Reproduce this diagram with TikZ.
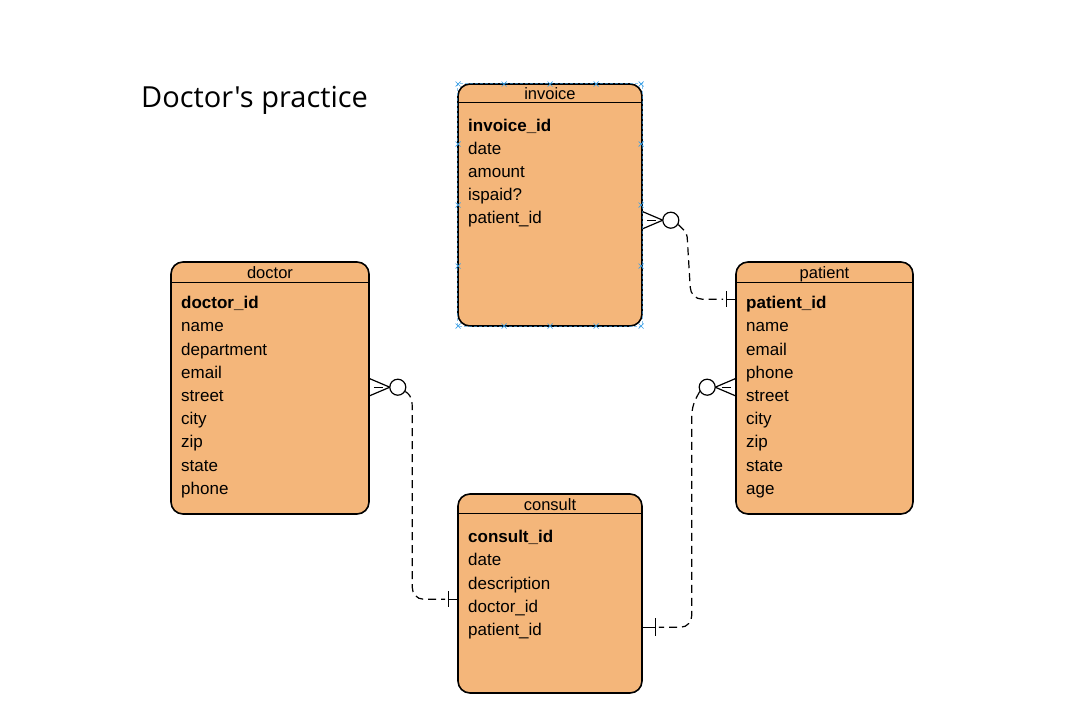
\documentclass[tikz,border=0pt]{standalone}
\usepackage{fontspec}
\setmainfont{Liberation Sans}
\newfontfamily\titlefont{Open Sans}
\definecolor{erfill}{RGB}{244,182,122}
\definecolor{selblue}{RGB}{60,160,230}
\begin{document}
\begin{tikzpicture}[x=1pt,y=-1pt,
  erbox/.style={draw, line width=1.6pt, rounded corners=12pt, fill=erfill, inner sep=0pt},
  ertitle/.style={anchor=base, inner sep=0pt, font=\fontsize{16.5}{19}\selectfont},
  erfield/.style={anchor=base west, inner sep=0pt, font=\fontsize{17}{20}\selectfont},
  erkey/.style={erfield, font=\fontsize{17}{20}\selectfont\bfseries},
  conn/.style={line width=1.2pt, dash pattern=on 8pt off 5pt},
  solidc/.style={line width=1.2pt},
  ring/.style={draw, circle, line width=1.2pt, fill=white, minimum size=16pt, inner sep=0pt},
  selmark/.style={selblue, line width=0.7pt}
]
\useasboundingbox (0,0) rectangle (1068,723);
% title
\node[anchor=base west, inner sep=0pt, font=\titlefont\fontsize{29}{33}\selectfont] (ttl) at (141,107) {Doctor's practice};

% boxes
\node[erbox, minimum width=184pt, minimum height=242pt] (invoice) at (550,205) {};
\node[erbox, minimum width=198pt, minimum height=252pt] (doctor) at (270,388) {};
\node[erbox, minimum width=177pt, minimum height=252pt] (patient) at (824.5,388) {};
\node[erbox, minimum width=184pt, minimum height=199pt] (consult) at (550,593.5) {};

% header lines
\draw[line width=1.3pt] ([yshift=-19pt]invoice.north west) -- ([yshift=-19pt]invoice.north east);
\draw[line width=1.3pt] ([yshift=-21pt]doctor.north west) -- ([yshift=-21pt]doctor.north east);
\draw[line width=1.3pt] ([yshift=-21pt]patient.north west) -- ([yshift=-21pt]patient.north east);
\draw[line width=1.3pt] ([yshift=-20pt]consult.north west) -- ([yshift=-20pt]consult.north east);

% titles
\node[ertitle] (invoice-t) at (550,99) {invoice};
\node[ertitle] (doctor-t) at (270,278) {doctor};
\node[ertitle] (patient-t) at (824.5,278) {patient};
\node[ertitle] (consult-t) at (550,510) {consult};

% invoice fields
\node[erkey] (inv1) at (468,131) {invoice\_id};
\node[erfield] (inv2) at (468,154) {date};
\node[erfield] (inv3) at (468,177) {amount};
\node[erfield] (inv4) at (468,200) {ispaid?};
\node[erfield] (inv5) at (468,223) {patient\_id};

% doctor fields
\node[erkey] (doc1) at (181,308) {doctor\_id};
\node[erfield] (doc2) at (181,331.5) {name};
\node[erfield] (doc3) at (181,355) {department};
\node[erfield] (doc4) at (181,378) {email};
\node[erfield] (doc5) at (181,401.5) {street};
\node[erfield] (doc6) at (181,424.5) {city};
\node[erfield] (doc7) at (181,447.5) {zip};
\node[erfield] (doc8) at (181,471) {state};
\node[erfield] (doc9) at (181,494.5) {phone};

% patient fields
\node[erkey] (pat1) at (746,308) {patient\_id};
\node[erfield] (pat2) at (746,331.5) {name};
\node[erfield] (pat3) at (746,355) {email};
\node[erfield] (pat4) at (746,378) {phone};
\node[erfield] (pat5) at (746,401.5) {street};
\node[erfield] (pat6) at (746,424.5) {city};
\node[erfield] (pat7) at (746,447.5) {zip};
\node[erfield] (pat8) at (746,471) {state};
\node[erfield] (pat9) at (746,494.5) {age};

% consult fields
\node[erkey] (con1) at (468,542.5) {consult\_id};
\node[erfield] (con2) at (468,565.5) {date};
\node[erfield] (con3) at (468,589) {description};
\node[erfield] (con4) at (468,612) {doctor\_id};
\node[erfield] (con5) at (468,635.5) {patient\_id};

% --- connector invoice (many) -- patient (one)
\coordinate (ip-a) at ([yshift=-137pt]invoice.north east);
\coordinate (ip-b) at ([yshift=-38pt]patient.north west);
\draw[solidc] ([yshift=8.5pt]ip-a) -- ([xshift=20pt]ip-a) -- ([yshift=-8.5pt]ip-a);
\draw[solidc] ([xshift=4pt]ip-a) -- ([xshift=13pt]ip-a);
\node[ring] (ip-c) at ([xshift=28pt]ip-a) {};
\draw[conn] (ip-c.-30) to[out=-50,in=93] ([xshift=-48pt,yshift=62pt]ip-b) -- ([xshift=-45pt,yshift=12pt]ip-b) to[out=-88,in=180] ([xshift=-33pt]ip-b) -- ([xshift=-12pt]ip-b);
\draw[solidc] ([xshift=-9pt]ip-b) -- (ip-b);
\draw[solidc] ([xshift=-9pt,yshift=8pt]ip-b) -- ([xshift=-9pt,yshift=-8pt]ip-b);

% --- connector doctor (many) -- consult (one)
\coordinate (dc-a) at ([yshift=-126pt]doctor.north east);
\coordinate (dc-b) at ([yshift=-106pt]consult.north west);
\draw[solidc] ([yshift=8.5pt]dc-a) -- ([xshift=20pt]dc-a) -- ([yshift=-8.5pt]dc-a);
\draw[solidc] ([xshift=4pt]dc-a) -- ([xshift=13pt]dc-a);
\node[ring] (dc-c) at ([xshift=28pt]dc-a) {};
\draw[conn] (dc-c.-30) to[out=-30,in=90] ([xshift=-45pt,yshift=185pt]dc-b) -- ([xshift=-45pt,yshift=12pt]dc-b) to[out=-90,in=180] ([xshift=-34pt]dc-b) -- ([xshift=-12pt]dc-b);
\draw[solidc] ([xshift=-9pt]dc-b) -- (dc-b);
\draw[solidc] ([xshift=-9pt,yshift=8pt]dc-b) -- ([xshift=-9pt,yshift=-8pt]dc-b);

% --- connector patient (many) -- consult (one)
\coordinate (pc-a) at ([yshift=-126pt]patient.north west);
\coordinate (pc-b) at ([yshift=-134pt]consult.north east);
\draw[solidc] ([yshift=8.5pt]pc-a) -- ([xshift=-20pt]pc-a) -- ([yshift=-8.5pt]pc-a);
\draw[solidc] ([xshift=-4pt]pc-a) -- ([xshift=-13pt]pc-a);
\node[ring] (pc-c) at ([xshift=-28pt]pc-a) {};
\draw[conn] (pc-c.-150) to[out=-120,in=90] ([xshift=49pt,yshift=210pt]pc-b) -- ([xshift=49pt,yshift=12pt]pc-b) to[out=-90,in=0] ([xshift=38pt]pc-b) -- ([xshift=16pt]pc-b);
\draw[solidc] ([xshift=13pt]pc-b) -- (pc-b);
\draw[solidc] ([xshift=13pt,yshift=9pt]pc-b) -- ([xshift=13pt,yshift=-9pt]pc-b);

% selection handles around invoice
\draw[selmark, densely dashed, line width=0.5pt, opacity=0.6] (457,83) rectangle (642,326);
\foreach \xx in {458,504,550,596,641} {
  \foreach \yy in {84,326} {
    \draw[selmark] (\xx-2.5,\yy-2.5) -- (\xx+2.5,\yy+2.5) (\xx-2.5,\yy+2.5) -- (\xx+2.5,\yy-2.5);
  }
}
\foreach \yy in {144,205,266} {
  \foreach \xx in {458,641} {
    \draw[selmark] (\xx-2.5,\yy-2.5) -- (\xx+2.5,\yy+2.5) (\xx-2.5,\yy+2.5) -- (\xx+2.5,\yy-2.5);
  }
}
\end{tikzpicture}
\end{document}
